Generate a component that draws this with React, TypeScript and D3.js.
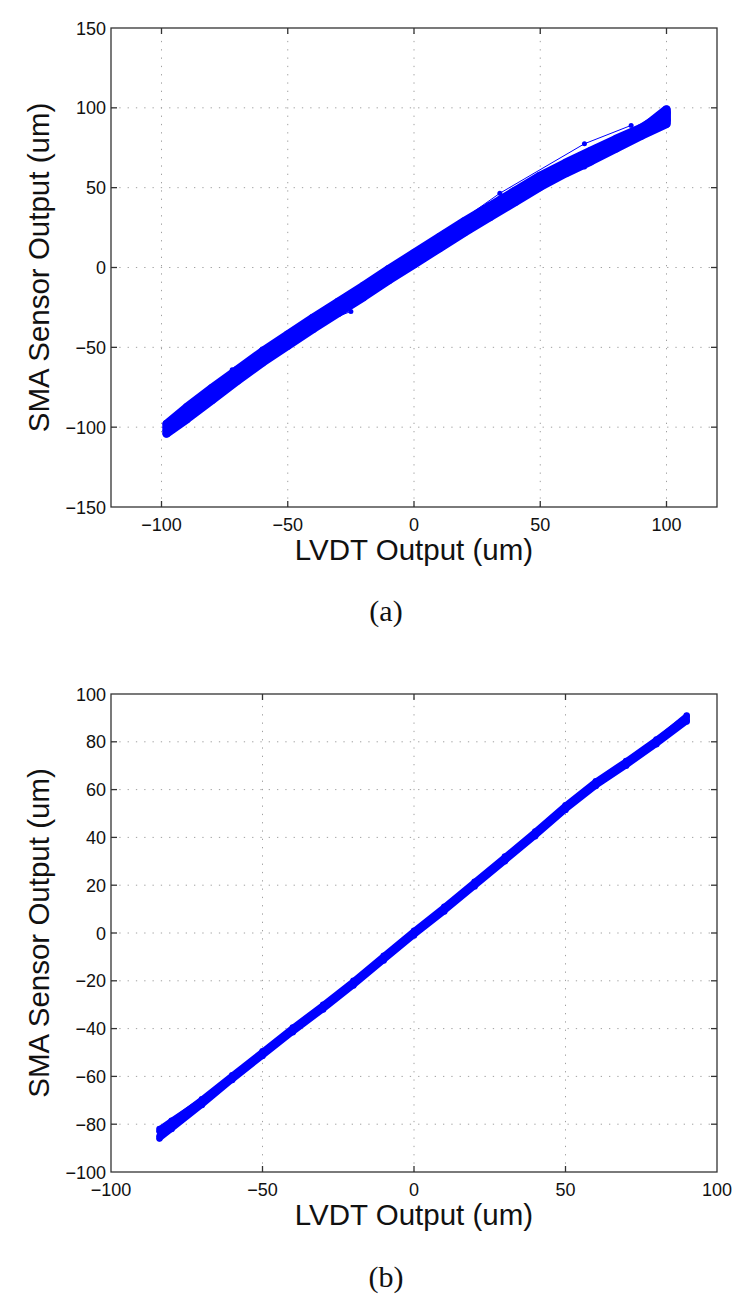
import React from 'react';
import * as d3 from 'd3';

// ---------- tick values ----------
const topXTicks = [-100, -50, 0, 50, 100];
const topYTicks = [-150, -100, -50, 0, 50, 100, 150];
const botXTicks = [-100, -50, 0, 50, 100];
const botYTicks = [-100, -80, -60, -40, -20, 0, 20, 40, 60, 80, 100];

// ---------- panel (a): SMA sensor vs LVDT, hysteresis loops ----------
const topX = [-98, -90, -80, -70, -60, -50, -40, -30, -20, -10, 0, 10, 20, 30, 40, 50, 60, 70, 80, 90, 100];
const topUp1 = [-104, -95, -83, -71, -59.5, -49, -38.5, -28.5, -18.5, -8, 2, 12, 22, 31.5, 41, 50.5, 59, 66.5, 74.5, 82.5, 90];
const topDown1 = [-98, -87.5, -75.5, -64, -52.5, -42, -31.5, -21.5, -11.5, -1, 9, 19, 29, 38.5, 48, 57.5, 65.5, 73, 80.5, 87.5, 97];
const topUp2 = [-102, -93, -81, -69.5, -58, -47.5, -37, -27, -17, -6.5, 3.5, 13.5, 23.5, 33, 42.5, 52, 60.5, 68, 75.5, 83.5, 92];
const topDown2 = [-100, -89.5, -77, -65.5, -54, -43.5, -33, -23, -13, -2.5, 7.5, 17.5, 27.5, 37, 46.5, 56, 64.5, 72, 79.5, 86.5, 99];
// sparse excursions drawn as thin line segments
const topThinAX = [12, 34, 67.5, 86];
const topThinAY = [22, 46.5, 77.5, 89];
const topThinBX = [34, 67.5, 86];
const topThinBY = [43.5, 63, 84];
const topThinCX = [-72, -60, -49];
const topThinCY = [-64, -51, -40];
const topThinDX = [-41, -25];
const topThinDY = [-37.5, -27.5];

// ---------- panel (b): compensated output ----------
const botX = [-84, -80, -70, -60, -50, -40, -30, -20, -10, 0, 10, 20, 30, 40, 50, 60, 70, 80, 90];
const botUp1 = [-86, -82, -72, -61.5, -51.5, -41.5, -32, -22, -11.5, -1, 9, 19.5, 30, 40.5, 51.5, 61.5, 70, 79, 88.5];
const botDown1 = [-83, -79, -69.5, -59.5, -49.5, -39.5, -30, -20, -9.5, 1, 11, 21.5, 32, 42.5, 53.5, 63.5, 72, 81, 90.5];
const botUp2 = [-85, -81.5, -71, -61, -51, -41, -31.5, -21.5, -11, -0.5, 9.5, 20, 30.5, 41, 52, 62, 70.5, 79.5, 89];
const botDown2 = [-82, -78.5, -70, -60, -50, -40, -30.5, -20.5, -10, 0.5, 10.5, 21, 31.5, 42, 53, 63, 71.5, 80.5, 91];

const BLUE = '#0000ff';
const SANS = '"Liberation Sans", Arial, Helvetica, sans-serif';
const SERIF = '"Liberation Serif", "Times New Roman", serif';

type Pt = [number, number];
const zip = (xs: number[], ys: number[]): Pt[] => xs.map((v, i) => [v, ys[i]] as Pt);
const fmt = (v: number) => (v < 0 ? '\u2212' + Math.abs(v) : String(v));

interface PanelProps {
  x0: number; x1: number; y0: number; y1: number;
  xDomain: [number, number]; yDomain: [number, number];
  xTicks: number[]; yTicks: number[];
  loops: Pt[][]; thin: Pt[][];
  lineW: number; markR: number;
  caption: string; captionY: number;
}

function Panel(p: PanelProps) {
  const x = d3.scaleLinear().domain(p.xDomain).range([p.x0, p.x1]);
  const y = d3.scaleLinear().domain(p.yDomain).range([p.y1, p.y0]);
  const line = d3.line<Pt>().x(d => x(d[0])).y(d => y(d[1]));
  const inX = (v: number) => v > p.xDomain[0] && v < p.xDomain[1];
  const inY = (v: number) => v > p.yDomain[0] && v < p.yDomain[1];
  const tl = 6;
  const cx = (p.x0 + p.x1) / 2;
  const cy = (p.y0 + p.y1) / 2;
  return (
    <g>
      {/* grid */}
      <g stroke="#a0a0a0" strokeWidth={1} strokeDasharray="1.3,7">
        {p.xTicks.filter(inX).map(t => (
          <line key={'gx' + t} x1={x(t)} x2={x(t)} y1={p.y1} y2={p.y0} />
        ))}
        {p.yTicks.filter(inY).map(t => (
          <line key={'gy' + t} x1={p.x0} x2={p.x1} y1={y(t)} y2={y(t)} />
        ))}
      </g>
      {/* data */}
      <g fill="none" stroke={BLUE} strokeLinejoin="round" strokeLinecap="round">
        {p.loops.map((pts, i) => (
          <path key={'l' + i} d={line(pts) || ''} strokeWidth={p.lineW} />
        ))}
        {p.thin.map((pts, i) => (
          <path key={'t' + i} d={line(pts) || ''} strokeWidth={1} />
        ))}
      </g>
      <g fill={BLUE}>
        {p.loops.map((pts, i) =>
          pts.map((d, j) => <circle key={'m' + i + '_' + j} cx={x(d[0])} cy={y(d[1])} r={p.markR} />)
        )}
        {p.thin.map((pts, i) =>
          pts.map((d, j) => <circle key={'tm' + i + '_' + j} cx={x(d[0])} cy={y(d[1])} r={2.5} />)
        )}
      </g>
      {/* frame and ticks */}
      <g stroke="#333" strokeWidth={1.3}>
        <rect x={p.x0} y={p.y0} width={p.x1 - p.x0} height={p.y1 - p.y0} fill="none" />
        {p.xTicks.filter(inX).map(t => (
          <g key={'tx' + t}>
            <line x1={x(t)} x2={x(t)} y1={p.y1} y2={p.y1 - tl} />
            <line x1={x(t)} x2={x(t)} y1={p.y0} y2={p.y0 + tl} />
          </g>
        ))}
        {p.yTicks.filter(inY).map(t => (
          <g key={'ty' + t}>
            <line x1={p.x0} x2={p.x0 + tl} y1={y(t)} y2={y(t)} />
            <line x1={p.x1} x2={p.x1 - tl} y1={y(t)} y2={y(t)} />
          </g>
        ))}
      </g>
      {/* tick labels */}
      <g fontFamily={SANS} fontSize={18} fill="#111">
        {p.xTicks.map(t => (
          <text key={'lx' + t} x={x(t)} y={p.y1 + 23.5} textAnchor="middle">{fmt(t)}</text>
        ))}
        {p.yTicks.map(t => (
          <text key={'ly' + t} x={p.x0 - 5} y={y(t) + 6.5} textAnchor="end">{fmt(t)}</text>
        ))}
      </g>
      {/* axis labels */}
      <text x={cx} y={p.y1 + 53} textAnchor="middle" fontFamily={SANS} fontSize={29.5} fill="#111">
        LVDT Output (um)
      </text>
      <text transform={`translate(49,${cy}) rotate(-90)`} textAnchor="middle" fontFamily={SANS} fontSize={29.5} fill="#111">
        SMA Sensor Output (um)
      </text>
      <text x={386} y={p.captionY} textAnchor="middle" fontFamily={SERIF} fontSize={30} fill="#111">
        {p.caption}
      </text>
    </g>
  );
}

export default function App() {
  const topLoops: Pt[][] = [
    [...zip(topX, topUp1), ...zip(topX, topDown1).reverse()],
    [...zip(topX, topUp2), ...zip(topX, topDown2).reverse()],
  ];
  const topThin: Pt[][] = [
    zip(topThinAX, topThinAY),
    zip(topThinBX, topThinBY),
    zip(topThinCX, topThinCY),
    zip(topThinDX, topThinDY),
  ];
  const botLoops: Pt[][] = [
    [...zip(botX, botUp1), ...zip(botX, botDown1).reverse()],
    [...zip(botX, botUp2), ...zip(botX, botDown2).reverse()],
  ];
  return (
    <svg width={750} height={1315} style={{ position: 'absolute', left: 0, top: 0, background: '#fff' }}>
      <rect x={0} y={0} width={750} height={1315} fill="#fff" />
      <Panel
        x0={111} x1={717} y0={28} y1={507}
        xDomain={[-120, 120]} yDomain={[-150, 150]}
        xTicks={topXTicks} yTicks={topYTicks}
        loops={topLoops} thin={topThin}
        lineW={8.5} markR={4}
        caption="(a)" captionY={621}
      />
      <Panel
        x0={111} x1={717} y0={694} y1={1172}
        xDomain={[-100, 100]} yDomain={[-100, 100]}
        xTicks={botXTicks} yTicks={botYTicks}
        loops={botLoops} thin={[]}
        lineW={5.5} markR={3.2}
        caption="(b)" captionY={1287}
      />
    </svg>
  );
}
